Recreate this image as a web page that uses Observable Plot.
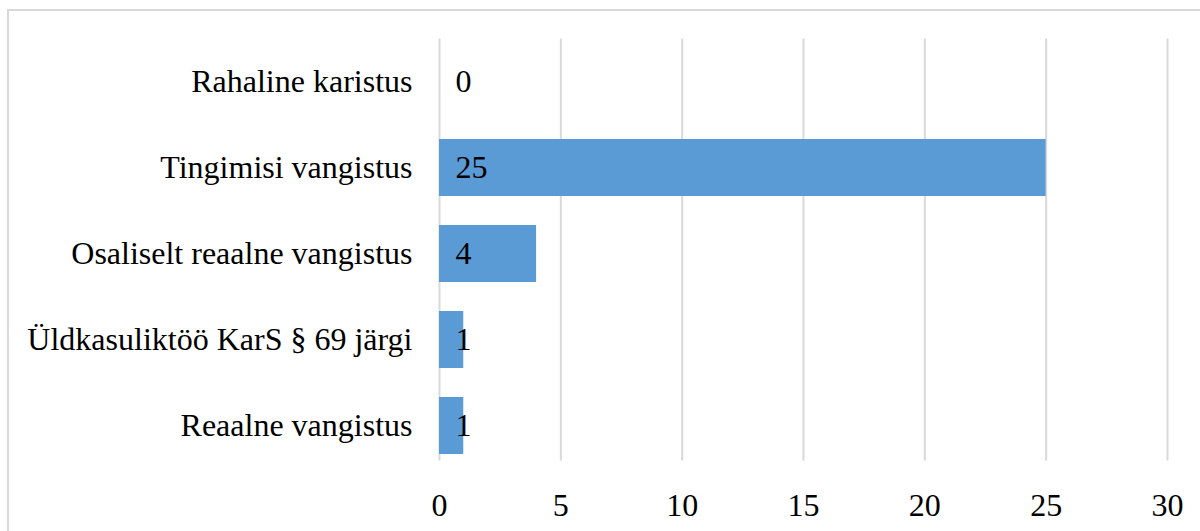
<!DOCTYPE html>
<html>
<head>
<meta charset="utf-8">
<script src="https://cdn.jsdelivr.net/npm/d3@7"></script>
<script src="https://cdn.jsdelivr.net/npm/@observablehq/plot@0.6"></script>
<style>
  html, body { margin: 0; padding: 0; background: #fff; }
  #wrap { position: relative; width: 1200px; height: 531px; overflow: hidden; }
  #frame { position: absolute; left: 7px; top: 9px; width: 1400px; height: 800px; border: 2px solid #d9d9d9; box-sizing: border-box; }
  #chart { position: absolute; left: 0; top: 0; }
  #chart svg, #chart svg text { font-family: "Liberation Serif", "Times New Roman", serif !important; }
</style>
</head>
<body>
<div id="wrap"><div id="frame"></div><div id="chart"></div></div>
<script>
const categories = ["Rahaline karistus", "Tingimisi vangistus", "Osaliselt reaalne vangistus", "Üldkasuliktöö KarS § 69 järgi", "Reaalne vangistus"];
const values = [0, 25, 4, 1, 1];
const xTicks = [0, 5, 10, 15, 20, 25, 30];

const data = categories.map((c, i) => ({category: c, value: values[i]}));
const font = "Liberation Serif";

const chart = Plot.plot({
  width: 1200,
  height: 531,
  marginLeft: 439,
  marginRight: 33,
  marginTop: 38.5,
  marginBottom: 62.5,
  style: {fontFamily: font, fontSize: "32px", color: "#000", background: "transparent"},
  x: {domain: [0, 30], ticks: xTicks, tickSize: 0, tickPadding: 24, label: null},
  y: {domain: categories, paddingInner: 0.337, paddingOuter: 0.1685, tickSize: 0, tickPadding: 27, label: null},
  marks: [
    Plot.ruleX(xTicks, {stroke: "#d9d9d9", strokeWidth: 2, strokeOpacity: 1, insetBottom: 8}),
    Plot.barX(data, {x: "value", y: "category", fill: "#5b9bd5"}),
    Plot.text(data, {x: 0, y: "category", text: d => String(d.value), textAnchor: "start", dx: 16, fill: "#000", fontSize: 32, fontFamily: font})
  ]
});
document.getElementById("chart").appendChild(chart);
</script>
</body>
</html>
